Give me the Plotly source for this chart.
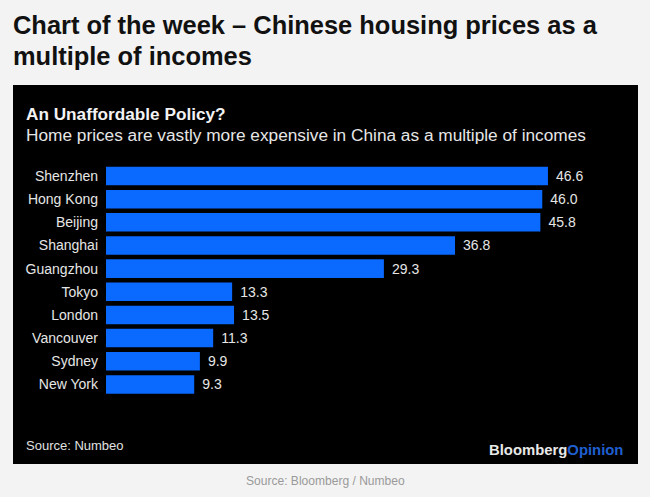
import plotly.graph_objects as go

cities = ["Shenzhen", "Hong Kong", "Beijing", "Shanghai", "Guangzhou",
          "Tokyo", "London", "Vancouver", "Sydney", "New York"]
multiples = [46.6, 46.0, 45.8, 36.8, 29.3, 13.3, 13.5, 11.3, 9.9, 9.3]
value_labels = ["46.6", "46.0", "45.8", "36.8", "29.3", "13.3", "13.5", "11.3", "9.9", "9.3"]

W, H = 650, 497
FONT = "Liberation Sans, Arial, sans-serif"

trace = go.Bar(
    x=multiples,
    y=cities,
    orientation="h",
    marker=dict(color="#0a6aff", line_width=0),
    text=value_labels,
    texttemplate="\u00a0\u200a%{text}",
    textposition="outside",
    cliponaxis=False,
    textfont=dict(color="#e6e6e6", size=14, family=FONT),
    hoverinfo="skip",
)


def note(x, y, text, size, color, weight=400, anchor="left"):
    return dict(xref="paper", yref="paper", x=x / W, y=1 - y / H, text=text,
                showarrow=False, xanchor=anchor, yanchor="middle", align="left",
                font=dict(size=size, color=color, family=FONT, weight=weight))


layout = go.Layout(
    width=W,
    height=H,
    margin=dict(l=0, r=0, t=0, b=0),
    paper_bgcolor="#f3f3f3",
    plot_bgcolor="rgba(0,0,0,0)",
    showlegend=False,
    bargap=0.2,
    xaxis=dict(domain=[106 / W, 630 / W], range=[0, 55.25], visible=False),
    yaxis=dict(domain=[1 - 396 / H, 1 - 164.4 / H], autorange="reversed",
               showgrid=False, zeroline=False, showline=False, ticks="",
               ticklabelstandoff=7, tickfont=dict(color="#e6e6e6", size=14, family=FONT)),
    shapes=[dict(type="rect", xref="paper", yref="paper", layer="below",
                 x0=13 / W, x1=638 / W, y0=1 - 464 / H, y1=1 - 85 / H,
                 fillcolor="#000000", line_width=0)],
    annotations=[
        note(11, 24.5, "Chart of the week – Chinese housing prices as a", 25.45, "#111111", 700),
        note(11, 56, "multiple of incomes", 25.45, "#111111", 700),
        note(24, 114, "An Unaffordable Policy?", 17.2, "#f2f2f2", 700),
        note(24, 135, "Home prices are vastly more expensive in China as a multiple of incomes", 17.25, "#e6e6e6"),
        note(24, 445, "Source: Numbeo", 13, "#e0e0e0"),
        note(625, 450, "Bloomberg<span style='color:#1f5fd0'>Opinion</span>", 14.85, "#e8e8e8", 700, "right"),
        note(325, 481, "Source: Bloomberg / Numbeo", 12.05, "#9a9a9a", 400, "center"),
    ],
)

fig = go.Figure(data=[trace], layout=layout)
fig.write_html("out.html", config={"displayModeBar": False},
               post_script="document.body.style.margin='0';")
